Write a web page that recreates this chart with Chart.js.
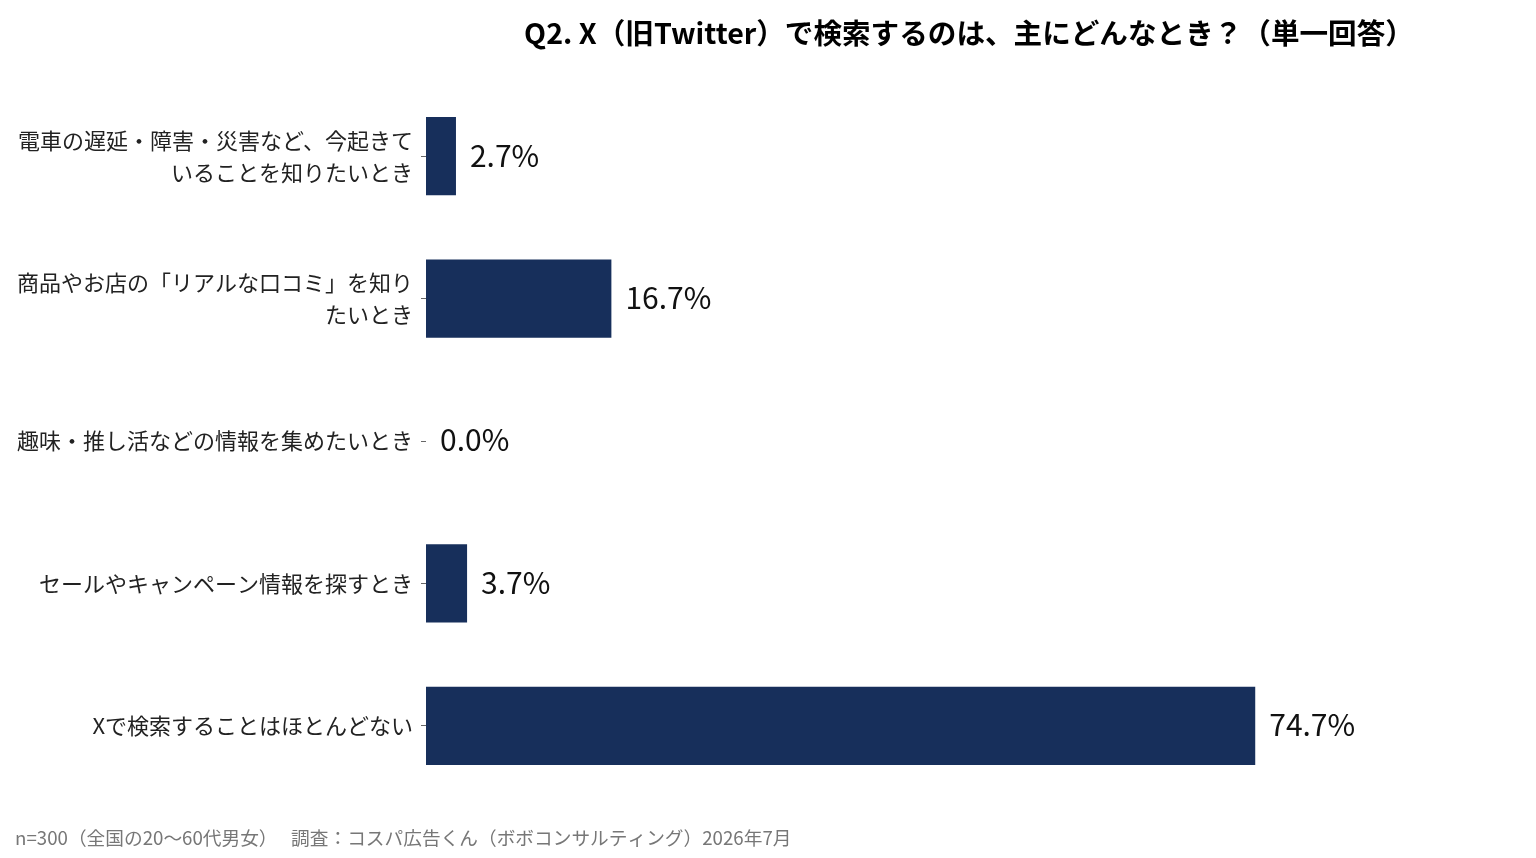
<!DOCTYPE html>
<html lang="ja">
<head>
    <meta charset="UTF-8">
    <title>Q2. X（旧Twitter）で検索するのは、主にどんなとき？</title>
    <script src="https://cdn.jsdelivr.net/npm/chart.js"></script>
    <style>
        html, body {
            margin: 0;
            padding: 0;
            background: #fff;
        }
        .wrap {
            position: relative;
            width: 1536px;
            height: 858px;
        }
    </style>
</head>
<body>
    <div class="wrap">
        <canvas id="chart" width="1536" height="858"></canvas>
    </div>

    <script>
        // データ
        const titleText = 'Q2. X（旧Twitter）で検索するのは、主にどんなとき？（単一回答）';
        const footerText = 'n=300（全国の20～60代男女）　 調査：コスパ広告くん（ボボコンサルティング）2026年7月';
        const categories = [
            ['電車の遅延・障害・災害など、今起きて', 'いることを知りたいとき'],
            ['商品やお店の「リアルな口コミ」を知り', 'たいとき'],
            '趣味・推し活などの情報を集めたいとき',
            'セールやキャンペーン情報を探すとき',
            'Xで検索することはほとんどない'
        ];
        const percents = [2.7, 16.7, 0.0, 3.7, 74.7];

        const FONT = '"Noto Sans CJK JP", "Noto Sans", sans-serif';

        // タイトル・注記・数値ラベル
        const textPlugin = {
            id: 'texts',
            afterDatasetsDraw(chart) {
                const ctx = chart.ctx;
                const area = chart.chartArea;
                const meta = chart.getDatasetMeta(0);
                ctx.save();

                // 数値ラベル
                ctx.fillStyle = '#111';
                ctx.font = '30px ' + FONT;
                ctx.textAlign = 'left';
                ctx.textBaseline = 'middle';
                meta.data.forEach((bar, i) => {
                    ctx.fillText(percents[i].toFixed(1) + '%', bar.x + 14, bar.y - 1);
                });

                // タイトル（プロット領域の中央）
                ctx.font = 'bold 28.6px ' + FONT;
                ctx.textAlign = 'center';
                ctx.fillStyle = '#000';
                ctx.fillText(titleText, (area.left + area.right) / 2 + 4, 33);

                // 注記
                ctx.font = '18.7px ' + FONT;
                ctx.textAlign = 'left';
                ctx.fillStyle = '#777';
                ctx.fillText(footerText, 15, 838);
                ctx.restore();
            }
        };

        new Chart(document.getElementById('chart'), {
            type: 'bar',
            data: {
                labels: categories,
                datasets: [{
                    data: percents,
                    backgroundColor: '#172f5b',
                    categoryPercentage: 1,
                    barPercentage: 0.55
                }]
            },
            options: {
                indexAxis: 'y',
                responsive: false,
                animation: false,
                layout: {
                    padding: { top: 85, bottom: 61, left: 0, right: 32 }
                },
                plugins: {
                    legend: { display: false },
                    tooltip: { enabled: false }
                },
                scales: {
                    x: {
                        display: false,
                        min: 0,
                        max: Math.max(...percents) * 1.3
                    },
                    y: {
                        afterFit(scale) {
                            scale.width = 426;
                        },
                        border: { display: false },
                        grid: {
                            offset: false,
                            drawOnChartArea: false,
                            drawTicks: true,
                            tickLength: 5,
                            color: '#666'
                        },
                        ticks: {
                            padding: 8,
                            color: '#222',
                            font: { family: FONT, size: 22, lineHeight: 1.45 }
                        }
                    }
                }
            },
            plugins: [textPlugin]
        });
    </script>
</body>
</html>
